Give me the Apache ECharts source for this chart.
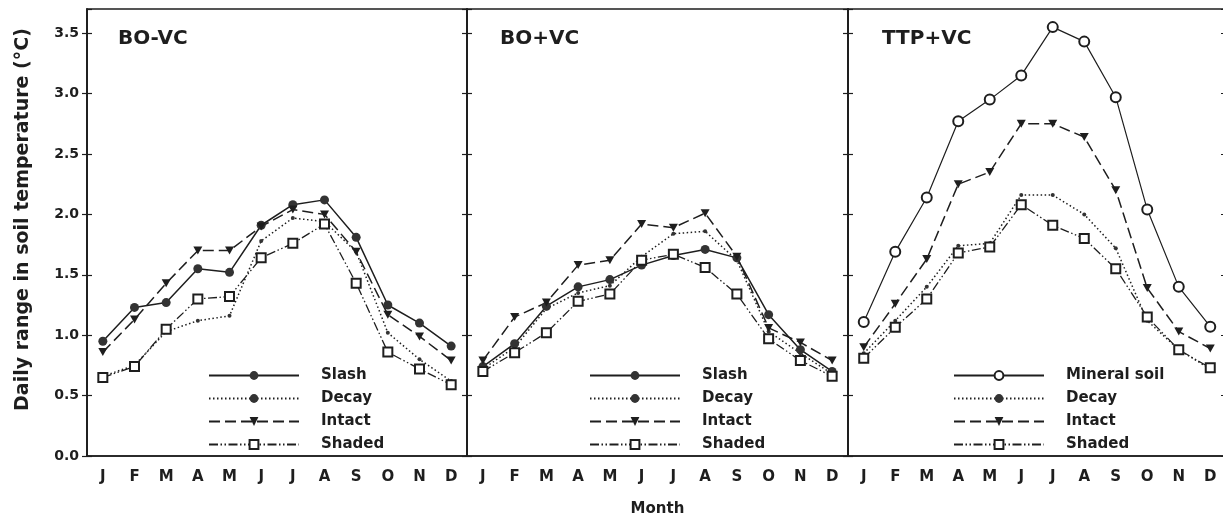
<html lang="en">
<head>
    <meta charset="UTF-8">
    <title>Daily range in soil temperature</title>
    <script src="https://cdn.jsdelivr.net/npm/echarts@6/dist/echarts.min.js"></script>
</head>
<style>
    body { margin: 0; background: #fff; }
</style>
<body>
    <div id="Chart1" style="width: 1223px; height: 521px;"></div>
</body>
<script>

// month labels
var months = ['J', 'F', 'M', 'A', 'M', 'J', 'J', 'A', 'S', 'O', 'N', 'D'];
var panelTitles = ['BO-VC', 'BO+VC', 'TTP+VC'];

// BO-VC
var slash1  = [0.95, 1.23, 1.27, 1.55, 1.52, 1.91, 2.08, 2.12, 1.81, 1.25, 1.10, 0.91];
var decay1  = [0.66, 0.75, 1.03, 1.12, 1.16, 1.78, 1.97, 1.94, 1.69, 1.02, 0.80, 0.62];
var intact1 = [0.86, 1.13, 1.43, 1.70, 1.70, 1.90, 2.04, 2.00, 1.69, 1.17, 0.99, 0.79];
var shaded1 = [0.65, 0.74, 1.05, 1.30, 1.32, 1.64, 1.76, 1.92, 1.43, 0.86, 0.72, 0.59];

// BO+VC
var slash2  = [0.74, 0.93, 1.24, 1.40, 1.46, 1.58, 1.66, 1.71, 1.64, 1.17, 0.88, 0.70];
var decay2  = [0.72, 0.90, 1.22, 1.35, 1.41, 1.65, 1.84, 1.86, 1.62, 1.03, 0.85, 0.68];
var intact2 = [0.79, 1.15, 1.27, 1.58, 1.62, 1.92, 1.89, 2.01, 1.65, 1.06, 0.94, 0.79];
var shaded2 = [0.70, 0.855, 1.02, 1.28, 1.34, 1.62, 1.67, 1.56, 1.34, 0.97, 0.79, 0.66];

// TTP+VC
var mineral3 = [1.11, 1.69, 2.14, 2.77, 2.95, 3.15, 3.55, 3.43, 2.97, 2.04, 1.40, 1.07];
var decay3   = [0.85, 1.12, 1.40, 1.74, 1.76, 2.16, 2.16, 2.00, 1.72, 1.12, 0.88, 0.72];
var intact3  = [0.90, 1.26, 1.63, 2.25, 2.35, 2.75, 2.75, 2.64, 2.20, 1.39, 1.03, 0.89];
var shaded3  = [0.81, 1.065, 1.30, 1.68, 1.73, 2.08, 1.91, 1.80, 1.55, 1.15, 0.88, 0.73];

var FONT = 'DejaVu Sans';
var INK = '#1e1e1e';

// look of each kind of line
var styles = {
    'Slash':        { symbol: 'circle', size: 9, line: 'solid', width: 1.5, fill: '#333' },
    'Mineral soil': { symbol: 'emptyCircle', size: 10, line: 'solid', width: 1.2, fill: INK },
    'Decay':        { symbol: 'circle', size: 4, line: [1.5, 2.5], width: 1.5, fill: '#333' },
    'Intact':       { symbol: 'triangle', size: [9, 8], line: [11, 5], width: 1.5, fill: INK, rotate: 180 },
    'Shaded':       { symbol: 'emptyRect', size: 9, line: [9, 2.5, 1.5, 2.5, 1.5, 2.5], width: 1.3, fill: INK }
};

// panel -> yAxis index used by its lines
var panelYAxis = [0, 3, 5];

function makeSeries(name, values, panel) {
    var s = styles[name];
    return {
        name: name,
        type: 'line',
        xAxisIndex: panel,
        yAxisIndex: panelYAxis[panel],
        data: values,
        symbol: s.symbol,
        symbolSize: s.size,
        symbolRotate: s.rotate || 0,
        showAllSymbol: true,
        lineStyle: { color: INK, width: s.width, type: s.line },
        itemStyle: { color: s.fill, borderColor: INK, borderWidth: s.symbol.indexOf('empty') === 0 ? 1.3 : 0 },
        emphasis: { disabled: true },
        animation: false,
        z: 3
    };
}

var gridBoxes = [
    { left: 87, width: 380 },
    { left: 467, width: 381 },
    { left: 848, width: 378 }
];

var grids = gridBoxes.map(function (b) {
    return {
        left: b.left, width: b.width, top: 9, height: 447,
        outerBoundsMode: 'none',
        show: true, borderColor: INK, borderWidth: 1.5, backgroundColor: 'transparent'
    };
});

var xAxes = gridBoxes.map(function (b, i) {
    return {
        type: 'category',
        gridIndex: i,
        data: months,
        boundaryGap: true,
        name: i === 1 ? 'Month' : '',
        nameLocation: 'middle',
        nameGap: 46,
        nameTextStyle: { fontFamily: FONT, fontWeight: 'bold', fontSize: 15, color: INK },
        axisLine: { lineStyle: { color: INK, width: 1.5 } },
        axisTick: { alignWithLabel: true, length: 5, lineStyle: { color: INK, width: 1.2 } },
        axisLabel: { fontFamily: FONT, fontWeight: 'bold', fontSize: 15, color: INK, margin: 14 },
        splitLine: { show: false }
    };
});

function yAxisBase(grid, position, inside, labels) {
    return {
        type: 'value',
        gridIndex: grid,
        position: position,
        min: 0, max: 3.7, interval: 0.5,
        axisLine: { show: true, lineStyle: { color: INK, width: 1.5 } },
        axisTick: { show: true, inside: inside, length: 5, lineStyle: { color: INK, width: 1.2 } },
        axisLabel: {
            show: labels, showMaxLabel: false, margin: 8,
            fontFamily: FONT, fontWeight: 'bold', fontSize: 14, color: INK,
            formatter: function (v) { return v.toFixed(1); }
        },
        splitLine: { show: false }
    };
}

var yLeft = yAxisBase(0, 'left', false, true);
yLeft.name = 'Daily range in soil temperature (°C)';
yLeft.nameLocation = 'middle';
yLeft.nameGap = 54;
yLeft.nameTextStyle = { fontFamily: FONT, fontWeight: 'bold', fontSize: 19, color: INK, padding: [0, 0, 0, 26] };

var yAxes = [
    yLeft,
    yAxisBase(0, 'left', true, false),
    yAxisBase(0, 'right', true, false),
    yAxisBase(1, 'left', true, false),
    yAxisBase(1, 'right', true, false),
    yAxisBase(2, 'left', true, false),
    yAxisBase(2, 'right', true, false)
];

var series = [
    makeSeries('Slash', slash1, 0),
    makeSeries('Decay', decay1, 0),
    makeSeries('Intact', intact1, 0),
    makeSeries('Shaded', shaded1, 0),
    makeSeries('Slash', slash2, 1),
    makeSeries('Decay', decay2, 1),
    makeSeries('Intact', intact2, 1),
    makeSeries('Shaded', shaded2, 1),
    makeSeries('Mineral soil', mineral3, 2),
    makeSeries('Decay', decay3, 2),
    makeSeries('Intact', intact3, 2),
    makeSeries('Shaded', shaded3, 2)
];

var titleLefts = [118, 500, 882];
var titles = panelTitles.map(function (t, i) {
    return {
        text: t, left: titleLefts[i], top: 29, padding: 0,
        textStyle: { fontFamily: FONT, fontWeight: 'bold', fontSize: 20, color: INK }
    };
});

function makeLegend(names, left) {
    return {
        orient: 'vertical',
        left: left, top: 368, padding: 0,
        itemWidth: 90, itemHeight: 11, itemGap: 8,
        selectedMode: false,
        data: names,
        textStyle: { fontFamily: FONT, fontWeight: 'bold', fontSize: 15, color: INK, lineHeight: 11, padding: [0, 0, 0, 17] }
    };
}

var option = {
    backgroundColor: '#fff',
    animation: false,
    title: titles,
    grid: grids,
    xAxis: xAxes,
    yAxis: yAxes,
    legend: [
        makeLegend(['Slash', 'Decay', 'Intact', 'Shaded'], 208),
        makeLegend(['Slash', 'Decay', 'Intact', 'Shaded'], 589),
        makeLegend(['Mineral soil', 'Decay', 'Intact', 'Shaded'], 953)
    ],
    series: series
};

var myChart1 = echarts.init(document.getElementById('Chart1'));
myChart1.setOption(option);

</script>
</html>
